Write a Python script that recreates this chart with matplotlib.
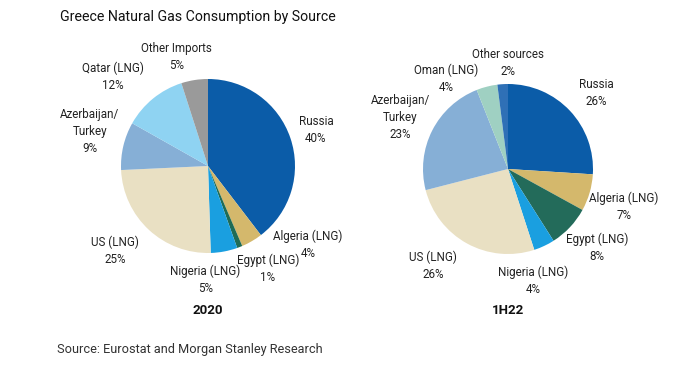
import matplotlib
matplotlib.use('Agg')
import matplotlib.pyplot as plt

plt.rcParams['font.family'] = ['Roboto', 'DejaVu Sans']

# data
labels_2020 = ['Russia', 'Algeria (LNG)', 'Egypt (LNG)', 'Nigeria (LNG)', 'US (LNG)',
               'Azerbaijan/\nTurkey', 'Qatar (LNG)', 'Other Imports']
values_2020 = [40, 4, 1, 5, 25, 9, 12, 5]
colors_2020 = ['#0b5ca8', '#d4b86c', '#1f6b55', '#1a9fe0', '#e9e0c3', '#86afd6', '#8fd3f2', '#9a9a9a']

labels_1h22 = ['Russia', 'Algeria (LNG)', 'Egypt (LNG)', 'Nigeria (LNG)', 'US (LNG)',
               'Azerbaijan/\nTurkey', 'Oman (LNG)', 'Other sources']
values_1h22 = [26, 7, 8, 4, 26, 23, 4, 2]
colors_1h22 = ['#0b5ca8', '#d4b86c', '#236b5a', '#1a9fe0', '#e9e0c3', '#86afd6', '#9fd0c2', '#2f70b6']

# label offsets from pie centre, in radius units
offs_2020 = [(1.24, 0.41), (1.15, -0.90), (0.69, -1.18), (-0.03, -1.31),
             (-1.07, -0.97), (-1.36, 0.40), (-1.09, 1.03), (-0.36, 1.25)]
offs_1h22 = [(1.04, 0.89), (1.36, -0.44), (1.05, -0.93), (0.30, -1.31),
             (-0.88, -1.14), (-1.27, 0.61), (-0.73, 1.06), (0.0, 1.25)]

W, H = 691, 368
fig = plt.figure(figsize=(W / 100, H / 100), dpi=100)
ax = fig.add_axes([0, 0, 1, 1])


def draw_pie(vals, cols, labs, offs, cx, cy, r, year):
    ax.pie(vals, colors=cols, startangle=90, counterclock=False,
           center=(cx, cy), radius=r, frame=True,
           wedgeprops=dict(linewidth=0))
    for lab, v, (ox, oy) in zip(labs, vals, offs):
        ax.text(cx + ox * r, cy + oy * r, f'{lab}\n{v}%', ha='center', va='center',
                fontsize=8.4, color='#222222', linespacing=1.4)
    ax.text(cx, H - 311, year, ha='center', va='center', fontsize=9.5,
            fontweight='bold', color='#111111')


draw_pie(values_2020, colors_2020, labels_2020, offs_2020, 208, H - 166, 87, '2020')
draw_pie(values_1h22, colors_1h22, labels_1h22, offs_1h22, 508, H - 169, 85, '1H22')

ax.set_xlim(0, W)
ax.set_ylim(0, H)
ax.set_aspect('auto')
ax.axis('off')

ax.text(60, H - 17, 'Greece Natural Gas Consumption by Source', ha='left', va='center',
        fontsize=10.2, color='#111111')
ax.text(57, H - 349, 'Source: Eurostat and Morgan Stanley Research', ha='left', va='center',
        fontsize=9.2, color='#333333')

fig.savefig('out.png', dpi=100)
